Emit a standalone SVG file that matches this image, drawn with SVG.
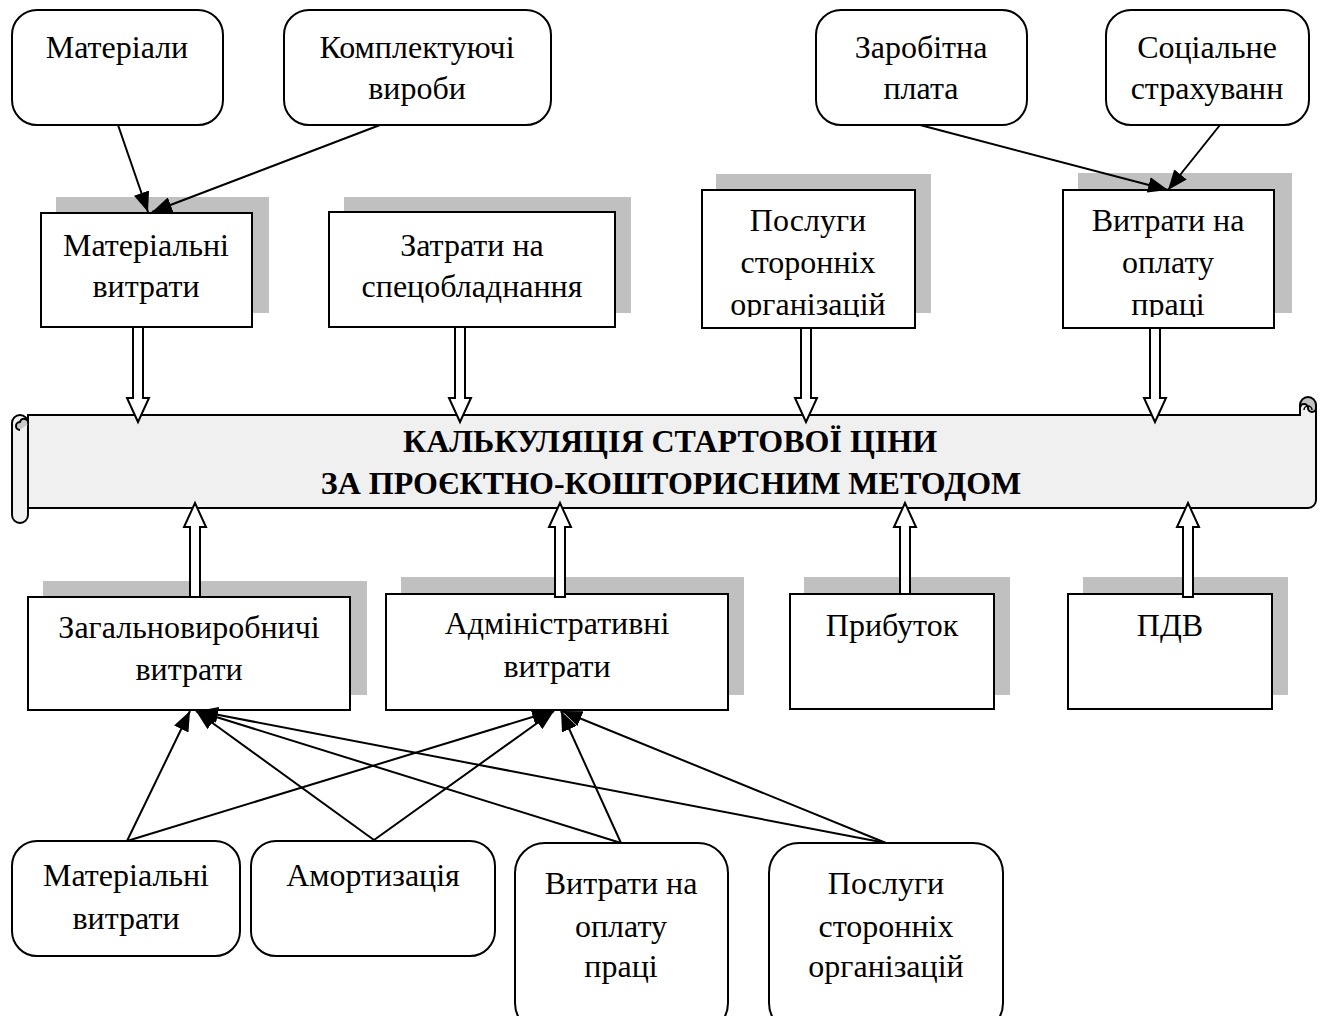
<svg xmlns="http://www.w3.org/2000/svg" width="1323" height="1016" viewBox="0 0 1323 1016">
<style>
.rb{fill:#fff;stroke:#000;stroke-width:2}
.bx{fill:#fff;stroke:#000;stroke-width:2}
.sh{fill:#c0c0c0}
.t{font-family:"Liberation Serif","Times New Roman",serif;font-size:32px;fill:#000;text-anchor:middle}
.tb{font-family:"Liberation Serif","Times New Roman",serif;font-size:32px;font-weight:bold;fill:#000;text-anchor:middle}
.ln{stroke:#000;stroke-width:2;fill:none}
.ha{fill:#fff;stroke:#000;stroke-width:2;stroke-linejoin:miter}
</style>
<defs>
<marker id="ah2" viewBox="0 0 20 16" refX="20" refY="8" markerWidth="20" markerHeight="16" markerUnits="userSpaceOnUse" orient="auto">
<path d="M0,0 L20,8 L0,16 z" fill="#000"/>
</marker>
<clipPath id="c1"><rect x="702" y="190" width="214" height="127"/></clipPath>
<clipPath id="c2"><rect x="1063" y="190" width="212" height="127"/></clipPath>
</defs>

<!-- Top source nodes -->
<g id="n-materialy"><rect class="rb" x="12" y="10" width="211" height="115" rx="25"/><text class="t" x="117" y="58">Матеріали</text></g>
<g id="n-komplekt"><rect class="rb" x="284" y="10" width="267" height="115" rx="25"/><text class="t" x="417" y="58">Комплектуючі</text><text class="t" x="417" y="99">вироби</text></g>
<g id="n-zarplata"><rect class="rb" x="816" y="10" width="211" height="115" rx="25"/><text class="t" x="921" y="58">Заробітна</text><text class="t" x="921" y="99">плата</text></g>
<g id="n-social"><rect class="rb" x="1106" y="10" width="203" height="115" rx="25"/><text class="t" x="1207" y="58">Соціальне</text><text class="t" x="1207" y="99">страхуванн</text></g>

<!-- Top cost boxes -->
<g id="n-mat-vytraty"><rect class="sh" x="56" y="197" width="213" height="116"/><rect class="bx" x="41" y="213" width="211" height="114"/><text class="t" x="146" y="256">Матеріальні</text><text class="t" x="146" y="297">витрати</text></g>
<g id="n-specobl"><rect class="sh" x="344" y="197" width="287" height="116"/><rect class="bx" x="329" y="212" width="286" height="115"/><text class="t" x="472" y="256">Затрати на</text><text class="t" x="472" y="297">спецобладнання</text></g>
<g id="n-poslugy-top"><rect class="sh" x="716" y="174" width="215" height="139"/><rect class="bx" x="702" y="190" width="213" height="138"/><g clip-path="url(#c1)"><text class="t" x="808" y="231">Послуги</text><text class="t" x="808" y="273">сторонніх</text><text class="t" x="808" y="315">організацій</text></g></g>
<g id="n-oplata-top"><rect class="sh" x="1078" y="173" width="214" height="140"/><rect class="bx" x="1063" y="190" width="211" height="138"/><g clip-path="url(#c2)"><text class="t" x="1168" y="231">Витрати на</text><text class="t" x="1168" y="273">оплату</text><text class="t" x="1168" y="315">праці</text></g></g>

<!-- Banner scroll -->
<g id="n-banner">
<path d="M28,415 H1300 V408 A8,8 0 0 1 1316,408 V500 A8,8 0 0 1 1308,508 H28 Z" fill="#f0f0f0" stroke="#000" stroke-width="2"/>
<path d="M1300,415 V405 A8,8 0 1 1 1316,405 V408 A4,4 0 0 1 1308,408 A4,4 0 0 0 1300,408" fill="#c0c0c0" stroke="#000" stroke-width="2"/>
<path d="M1304,410 A4,4 0 0 1 1312,410" fill="none" stroke="#000" stroke-width="1.5"/>
<path d="M12,423 A8,8 0 0 1 28,423 V515 A8,8 0 0 1 12,515 Z" fill="#f0f0f0" stroke="#000" stroke-width="2"/>
<path d="M20,430 A4,4 0 0 1 20,422 A4,4 0 0 1 28,424" fill="#c8c8c8" stroke="#000" stroke-width="2"/>
<text class="tb" x="670" y="452">КАЛЬКУЛЯЦІЯ СТАРТОВОЇ ЦІНИ</text>
<text class="tb" x="671" y="494">ЗА ПРОЄКТНО-КОШТОРИСНИМ МЕТОДОМ</text>
</g>

<!-- Bottom cost boxes -->
<g id="n-zagalno"><rect class="sh" x="43" y="581" width="324" height="114"/><rect class="bx" x="28" y="597" width="322" height="113"/><text class="t" x="189" y="638">Загальновиробничі</text><text class="t" x="189" y="680">витрати</text></g>
<g id="n-admin"><rect class="sh" x="401" y="577" width="343" height="118"/><rect class="bx" x="386" y="594" width="342" height="116"/><text class="t" x="557" y="634">Адміністративні</text><text class="t" x="557" y="677">витрати</text></g>
<g id="n-prybutok"><rect class="sh" x="804" y="577" width="206" height="118"/><rect class="bx" x="790" y="594" width="204" height="115"/><text class="t" x="892" y="636">Прибуток</text></g>
<g id="n-pdv"><rect class="sh" x="1083" y="577" width="205" height="118"/><rect class="bx" x="1068" y="594" width="204" height="115"/><text class="t" x="1170" y="636">ПДВ</text></g>

<!-- Bottom source nodes -->
<g id="n-mat-bottom"><rect class="rb" x="12" y="841" width="228" height="115" rx="25"/><text class="t" x="126" y="886">Матеріальні</text><text class="t" x="126" y="929">витрати</text></g>
<g id="n-amort"><rect class="rb" x="251" y="841" width="244" height="115" rx="25"/><text class="t" x="373" y="886">Амортизація</text></g>
<g id="n-oplata-bottom"><rect class="rb" x="515" y="843" width="213" height="190" rx="30"/><text class="t" x="621" y="894">Витрати на</text><text class="t" x="621" y="937">оплату</text><text class="t" x="621" y="977">праці</text></g>
<g id="n-poslugy-bottom"><rect class="rb" x="769" y="843" width="234" height="190" rx="30"/><text class="t" x="886" y="894">Послуги</text><text class="t" x="886" y="937">сторонніх</text><text class="t" x="886" y="977">організацій</text></g>

<!-- Connectors -->
<g id="connectors">
<line class="ln" x1="118" y1="125" x2="148" y2="212" marker-end="url(#ah2)"/>
<line class="ln" x1="380" y1="125" x2="152" y2="212" marker-end="url(#ah2)"/>
<line class="ln" x1="920" y1="125" x2="1168" y2="190" marker-end="url(#ah2)"/>
<line class="ln" x1="1220" y1="125" x2="1168" y2="190" marker-end="url(#ah2)"/>

<path class="ha" d="M133,327 V398 H127 L138,422 L149,398 H143 V327 Z"/>
<path class="ha" d="M455,327 V398 H449 L460,422 L471,398 H465 V327 Z"/>
<path class="ha" d="M801,328 V398 H795 L806,422 L817,398 H811 V328 Z"/>
<path class="ha" d="M1150,328 V398 H1144 L1155,422 L1166,398 H1160 V328 Z"/>
<path class="ha" d="M190,597 V527 H184 L195,503 L206,527 H200 V597 Z"/>
<path class="ha" d="M555,597 V527 H549 L560,503 L571,527 H565 V597 Z"/>
<path class="ha" d="M900,594 V527 H894 L905,503 L916,527 H910 V594 Z"/>
<path class="ha" d="M1183,597 V527 H1177 L1188,503 L1199,527 H1193 V597 Z"/>

<line class="ln" x1="127" y1="841" x2="190" y2="711" marker-end="url(#ah2)"/>
<line class="ln" x1="127" y1="841" x2="552" y2="711" marker-end="url(#ah2)"/>
<line class="ln" x1="374" y1="840" x2="196" y2="711" marker-end="url(#ah2)"/>
<line class="ln" x1="374" y1="840" x2="554" y2="711" marker-end="url(#ah2)"/>
<line class="ln" x1="621" y1="843" x2="197" y2="711" marker-end="url(#ah2)"/>
<line class="ln" x1="621" y1="843" x2="561" y2="711" marker-end="url(#ah2)"/>
<line class="ln" x1="886" y1="843" x2="198" y2="711" marker-end="url(#ah2)"/>
<line class="ln" x1="886" y1="843" x2="562" y2="711" marker-end="url(#ah2)"/>
</g>
</svg>
